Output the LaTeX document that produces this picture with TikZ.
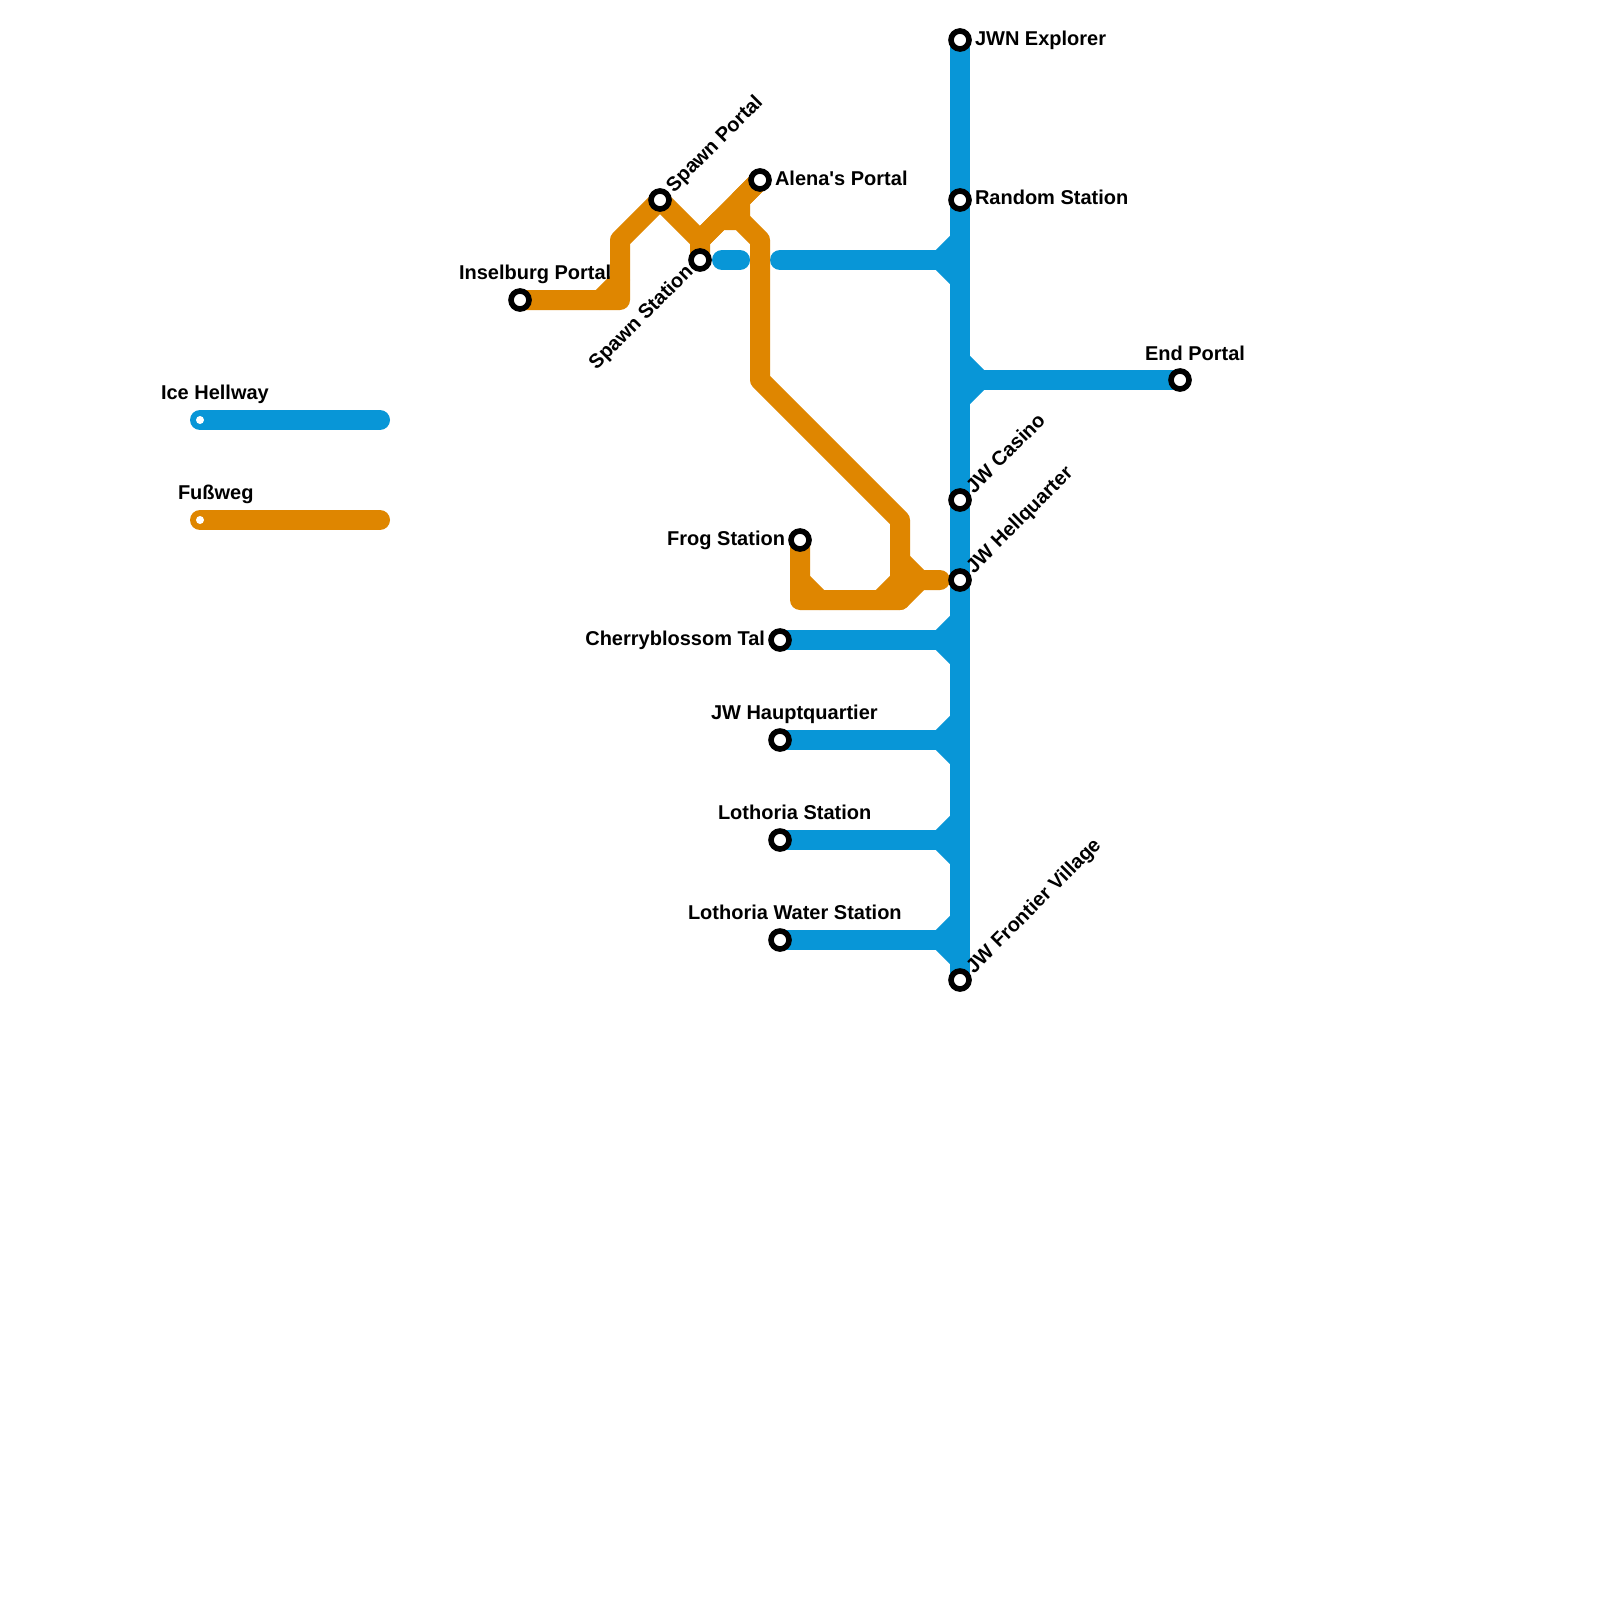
\documentclass[tikz,border=0pt]{standalone}
\usepackage{fontspec}
\newfontfamily\lblfont{Liberation Sans}
\usetikzlibrary{backgrounds}
\definecolor{iceblue}{HTML}{0896D7}
\definecolor{footorange}{HTML}{DF8600}
\tikzset{
  x=1pt,y=-1pt,
  stn/.style={circle,draw=black,line width=5.6pt,fill=white,inner sep=0pt,outer sep=0pt,minimum size=18pt},
  lbl/.style={inner sep=0pt,outer sep=0pt,font=\lblfont\fontsize{20pt}{22pt}\selectfont\bfseries,text=black},
  ice/.style={draw=iceblue,line width=20pt,line cap=round,line join=round},
  foot/.style={draw=footorange,line width=20pt,line cap=round,line join=round},
  blue sharp/.style={draw=iceblue,line width=20pt,line cap=butt,line join=miter},
  legdot/.style={circle,fill=white,inner sep=0pt,outer sep=0pt,minimum size=8pt}
}
\begin{document}
\begin{tikzpicture}
\useasboundingbox (0,0) rectangle (1600,1600);
% stations
\node[stn] (jwn) at (960,40) {};
\node[stn] (rnd) at (960,200) {};
\node[stn] (cas) at (960,500) {};
\node[stn] (hq) at (960,580) {};
\node[stn] (jwf) at (960,980) {};
\node[stn] (end) at (1180,380) {};
\node[stn] (chb) at (780,640) {};
\node[stn] (hpt) at (780,740) {};
\node[stn] (lot) at (780,840) {};
\node[stn] (lwa) at (780,940) {};
\node[stn] (spw) at (700,260) {};
\node[stn] (spp) at (660,200) {};
\node[stn] (ale) at (760,180) {};
\node[stn] (ins) at (520,300) {};
\node[stn] (frg) at (800,540) {};
% bend points
\foreach \n/\x/\y in {
  a1/620/300,a2/620/240,a3/600/300,a4/620/280,
  b1/700/240,b2/720/220,b3/740/220,b4/760/240,b5/760/380,b6/900/520,b7/740/200,
  c1/900/600,c2/920/580,c3/940/580,c4/900/560,c5/880/600,c6/900/580,
  d1/800/600,d2/820/600,d3/800/580,
  e1/722/260,e2/740/260,e3/780/260,e4/940/260,e5/960/240,e6/960/280,
  f1/980/380,f2/960/360,f3/960/400,
  g1/940/640,g2/960/620,g3/960/660,
  h1/940/740,h2/960/720,h3/960/760,
  i1/940/840,i2/960/820,i3/960/860,
  j1/940/940,j2/960/920,j3/960/960,
  l1/200/420,l2/380/420,l3/200/520,l4/380/520}
  {\coordinate (\n) at (\x,\y);}
\begin{scope}[on background layer]
\fill[white] (0,0) rectangle (1600,1600);
% Ice Hellway
\draw[blue sharp] (jwn.center) -- (jwf.center);
\draw[ice] (e1) -- (e2);
\draw[ice] (e3) -- (e4);
\draw[blue sharp] (e5) -- (e4) -- (e6);
\draw[ice] (end.center) -- (f1);
\draw[blue sharp] (f2) -- (f1) -- (f3);
\draw[ice] (chb.center) -- (g1);
\draw[blue sharp] (g2) -- (g1) -- (g3);
\draw[ice] (hpt.center) -- (h1);
\draw[blue sharp] (h2) -- (h1) -- (h3);
\draw[ice] (lot.center) -- (i1);
\draw[blue sharp] (i2) -- (i1) -- (i3);
\draw[ice] (lwa.center) -- (j1);
\draw[blue sharp] (j2) -- (j1) -- (j3);
% Fussweg
\draw[foot] (ins.center) -- (a1) -- (a2) -- (spp.center) -- (b1) -- (spw.center);
\draw[foot] (a3) -- (a4);
\draw[foot] (ale.center) -- (b1);
\draw[foot] (b1) -- (b2) -- (b3) -- (b4) -- (b5) -- (b6) -- (c1) -- (d1) -- (frg.center);
\draw[foot,line cap=butt] (ale.center) -- (b7) -- (b3);
\draw[foot] (c4) -- (c2) -- (c3);
\draw[foot] (c1) -- (c2);
\draw[foot] (c5) -- (c6);
\draw[foot] (d3) -- (d2);
% legend
\draw[ice] (l1) -- (l2);
\draw[foot] (l3) -- (l4);
\end{scope}
\node[legdot] (dot1) at (l1) {};
\node[legdot] (dot2) at (l3) {};
% labels
\node[lbl,anchor=base west] (t1) at (975,46) {JWN Explorer};
\node[lbl,anchor=base west] (t2) at (975,204) {Random Station};
\node[lbl,anchor=base west] (t3) at (775,185) {Alena's Portal};
\node[lbl,anchor=base west] (t4) at (1145,360) {End Portal};
\node[lbl,anchor=base east] (t5) at (785,545) {Frog Station};
\node[lbl,anchor=base east] (t6) at (765,645) {Cherryblossom Tal};
\node[lbl,anchor=base west] (t7) at (711,719) {JW Hauptquartier};
\node[lbl,anchor=base west] (t8) at (718,819) {Lothoria Station};
\node[lbl,anchor=base west] (t9) at (688,919) {Lothoria Water Station};
\node[lbl,anchor=base west] (t10) at (459,279) {Inselburg Portal};
\node[lbl,anchor=base west] (t11) at (161,399) {Ice Hellway};
\node[lbl,anchor=base west] (t12) at (178,499) {Fußweg};
\node[lbl,anchor=base west,rotate=45] (t13) at (674,193) {Spawn Portal};
\node[lbl,anchor=base east,rotate=45] (t14) at (694,273) {Spawn Station};
\node[lbl,anchor=base west,rotate=45] (t15) at (974,494) {JW Casino};
\node[lbl,anchor=base west,rotate=45] (t16) at (974,574) {JW Hellquarter};
\node[lbl,anchor=base west,rotate=45] (t17) at (974,974) {JW Frontier Village};
\end{tikzpicture}
\end{document}
